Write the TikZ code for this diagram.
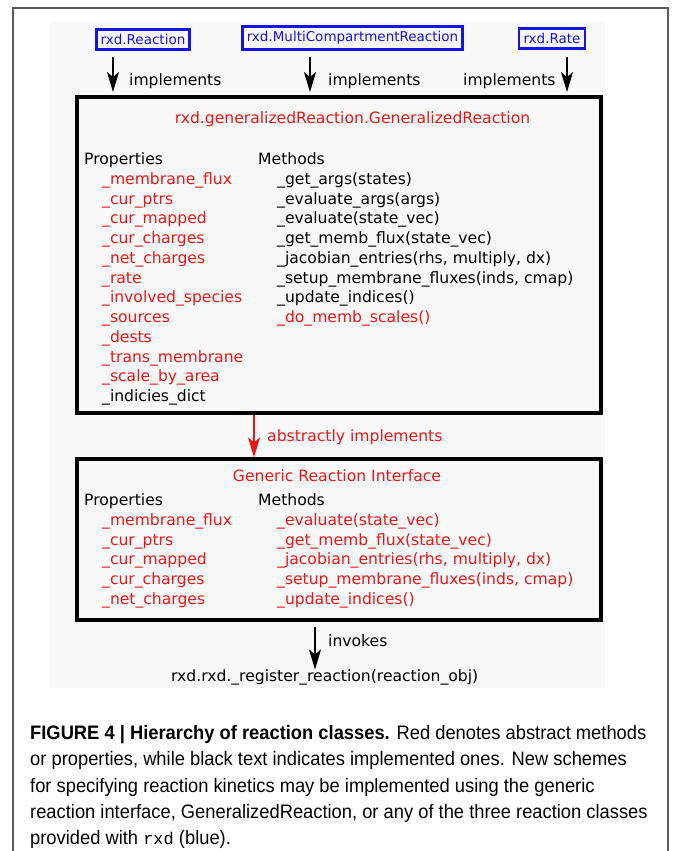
\documentclass[tikz,border=0pt]{standalone}
\usepackage{fontspec}
\usetikzlibrary{arrows.meta}
\newfontfamily\dfont{DejaVu Sans}
\newfontfamily\capfont[FakeStretch=0.94]{Liberation Sans}
\newfontfamily\capmono{Liberation Mono}
\definecolor{rred}{RGB}{236,22,22}
\definecolor{bblue}{RGB}{20,20,230}
\definecolor{framegray}{RGB}{90,90,90}
\definecolor{bggray}{RGB}{248,248,248}
\begin{document}
\begin{tikzpicture}[x=1pt,y=-1pt,
  txt/.style={inner sep=0pt,anchor=base west,font=\dfont\fontsize{15.6}{18}\selectfont},
  rtxt/.style={txt,text=rred},
  bluebox/.style={draw=bblue,line width=2.8pt,text=bblue,inner xsep=4.5pt,inner ysep=5pt,font=\dfont\fontsize{13.5}{15}\selectfont},
  classbox/.style={draw=black,line width=3.2pt},
  arr/.style={-{Stealth[length=20pt,width=12pt,inset=5pt]},line width=1.4pt},
  captxt/.style={inner sep=0pt,anchor=base west,font=\capfont\fontsize{19.5}{22}\selectfont}]
\useasboundingbox (0,0) rectangle (673,851);
\fill[white] (0,0) rectangle (673,851);
\fill[bggray] (50,22) rectangle (605,688);
\draw[framegray,line width=1.6pt] (13,851) -- (13,8) -- (668,8) -- (668,851);

% top blue boxes
\node[bluebox] (reac) at (143,39.5) {rxd.Reaction};
\node[bluebox] (multi) at (352.5,38) {rxd.MultiCompartmentReaction};
\node[bluebox] (rate) at (552,38.5) {rxd.Rate};

% big class box
\node[classbox,minimum width=524pt,minimum height=316pt] (gen) at (339,255) {};
\node[rtxt,anchor=base] (gentitle) at (352.5,123) {rxd.generalizedReaction.GeneralizedReaction};

% implements arrows
\coordinate (a1s) at (113,57); \coordinate (a1e) at (113,92);
\coordinate (a2s) at (310,57); \coordinate (a2e) at (310,92);
\coordinate (a3s) at (567,57); \coordinate (a3e) at (567,92);
\draw[arr] (a1s) -- (a1e);
\draw[arr] (a2s) -- (a2e);
\draw[arr] (a3s) -- (a3e);
\node[txt] (imp1) at (129,85.5) {implements};
\node[txt] (imp2) at (328,85.5) {implements};
\node[txt] (imp3) at (463,85.5) {implements};

% properties of GeneralizedReaction
\node[txt] (gp) at (84,164.5) {Properties};
\node[rtxt] (gp1) at (102,184.3) {\_membrane\_flux};
\node[rtxt] (gp2) at (102,204.0) {\_cur\_ptrs};
\node[rtxt] (gp3) at (102,223.8) {\_cur\_mapped};
\node[rtxt] (gp4) at (102,243.5) {\_cur\_charges};
\node[rtxt] (gp5) at (102,263.3) {\_net\_charges};
\node[rtxt] (gp6) at (102,283.0) {\_rate};
\node[rtxt] (gp7) at (102,302.8) {\_involved\_species};
\node[rtxt] (gp8) at (102,322.5) {\_sources};
\node[rtxt] (gp9) at (102,342.3) {\_dests};
\node[rtxt] (gp10) at (102,362.0) {\_trans\_membrane};
\node[rtxt] (gp11) at (102,381.8) {\_scale\_by\_area};
\node[txt] (gp12) at (102,401.5) {\_indicies\_dict};

% methods of GeneralizedReaction
\node[txt] (gm) at (258,164.5) {Methods};
\node[txt] (gm1) at (277,184.3) {\_get\_args(states)};
\node[txt] (gm2) at (277,204.0) {\_evaluate\_args(args)};
\node[txt] (gm3) at (277,223.8) {\_evaluate(state\_vec)};
\node[txt] (gm4) at (277,243.5) {\_get\_memb\_flux(state\_vec)};
\node[txt] (gm5) at (277,263.3) {\_jacobian\_entries(rhs, multiply, dx)};
\node[txt] (gm6) at (277,283.0) {\_setup\_membrane\_fluxes(inds, cmap)};
\node[txt] (gm7) at (277,302.8) {\_update\_indices()};
\node[rtxt] (gm8) at (277,322.5) {\_do\_memb\_scales()};

% abstractly implements
\node[classbox,minimum width=524pt,minimum height=161pt] (gri) at (339,539.5) {};
\draw[arr,rred] (gen.south -| 254,0) -- (gri.north -| 254,0);
\node[rtxt] (absimp) at (267,441) {abstractly implements};

% generic reaction interface
\node[rtxt,anchor=base] (grititle) at (337,481.5) {Generic Reaction Interface};
\node[txt] (ip) at (84,505.5) {Properties};
\node[rtxt] (ip1) at (102,525.3) {\_membrane\_flux};
\node[rtxt] (ip2) at (102,545.0) {\_cur\_ptrs};
\node[rtxt] (ip3) at (102,564.8) {\_cur\_mapped};
\node[rtxt] (ip4) at (102,584.5) {\_cur\_charges};
\node[rtxt] (ip5) at (102,604.3) {\_net\_charges};
\node[txt] (im) at (258,505.5) {Methods};
\node[rtxt] (im1) at (277,525.3) {\_evaluate(state\_vec)};
\node[rtxt] (im2) at (277,545.0) {\_get\_memb\_flux(state\_vec)};
\node[rtxt] (im3) at (277,564.8) {\_jacobian\_entries(rhs, multiply, dx)};
\node[rtxt] (im4) at (277,584.5) {\_setup\_membrane\_fluxes(inds, cmap)};
\node[rtxt] (im5) at (277,604.3) {\_update\_indices()};

% invokes
\node[txt] (reg) at (171,681.5) {rxd.rxd.\_register\_reaction(reaction\_obj)};
\coordinate (invs) at (315,627);
\draw[arr] (invs) -- (reg.north -| invs);
\node[txt] (inv) at (328,646.5) {invokes};

% caption
\node[captxt] (cap1) at (30,739.5) {\textbf{FIGURE 4 | Hierarchy of reaction classes.} Red denotes abstract methods};
\node[captxt] (cap2) at (30,765.8) {or properties, while black text indicates implemented ones. New schemes};
\node[captxt] (cap3) at (30,792.1) {for specifying reaction kinetics may be implemented using the generic};
\node[captxt] (cap4) at (30,818.4) {reaction interface, GeneralizedReaction, or any of the three reaction classes};
\node[captxt] (cap5) at (30,844.7) {provided with {\capmono\fontsize{17}{20}\selectfont rxd} (blue).};
\end{tikzpicture}
\end{document}
